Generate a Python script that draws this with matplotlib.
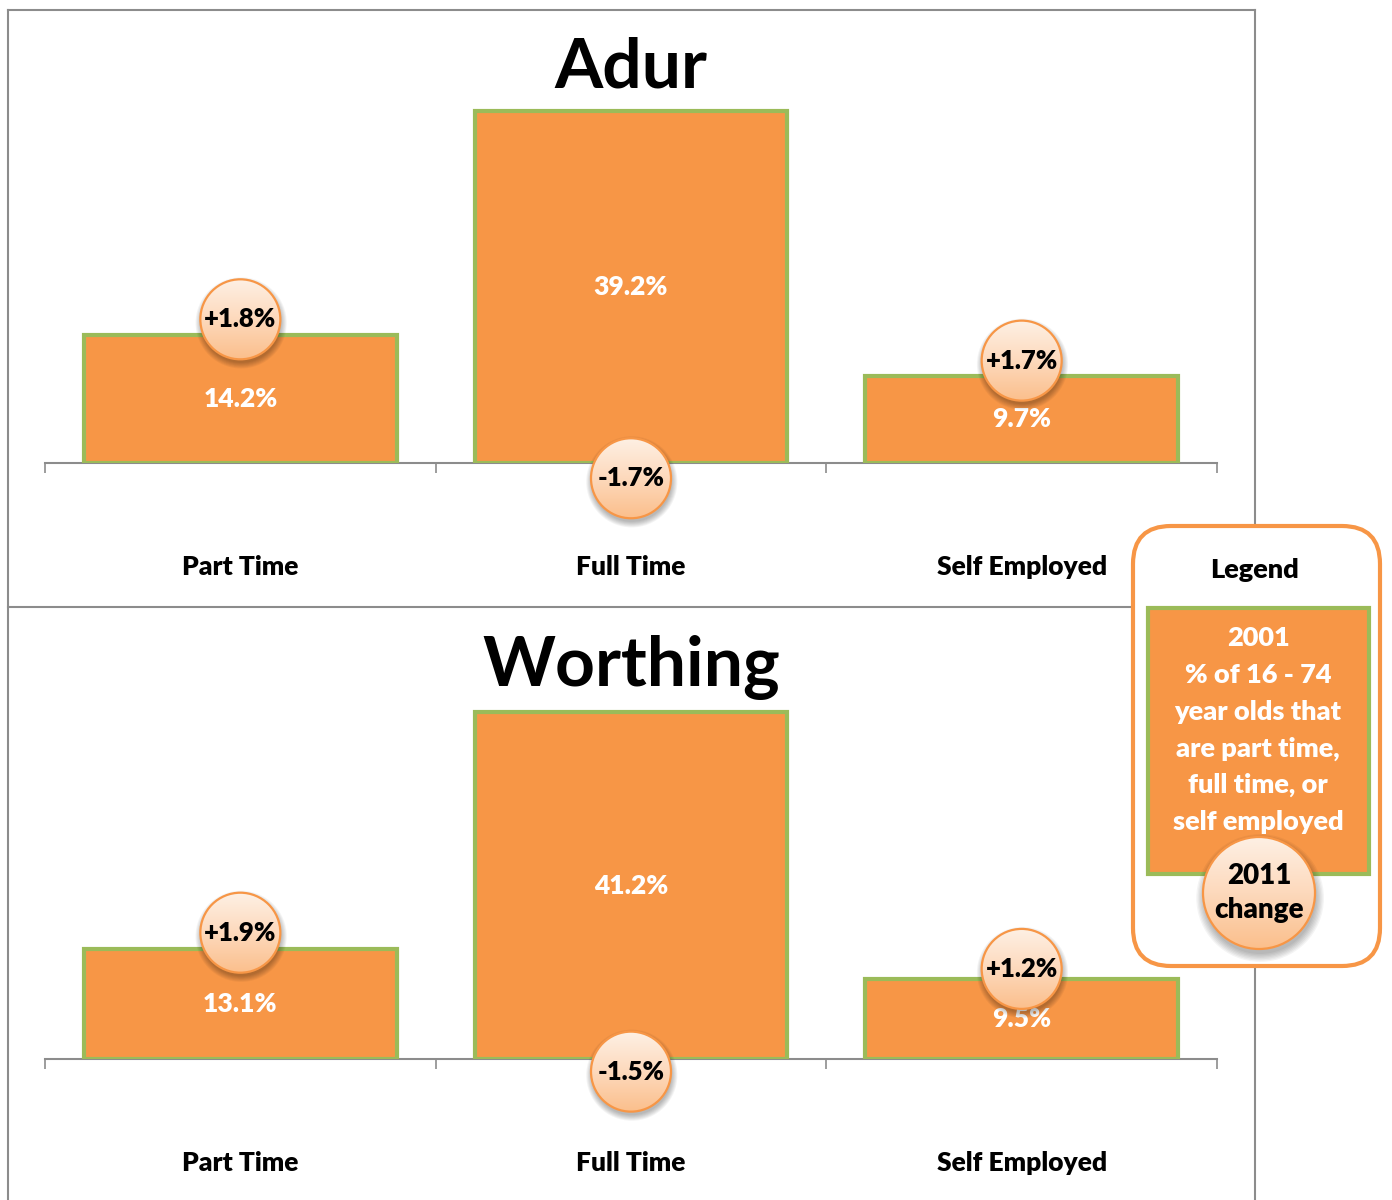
import numpy as np
import matplotlib
matplotlib.use("Agg")
import matplotlib.pyplot as plt
from matplotlib.patches import Circle, Rectangle, FancyBboxPatch
from matplotlib.colors import LinearSegmentedColormap

plt.rcParams['font.family'] = ['Lato', 'DejaVu Sans']
plt.rcParams['font.weight'] = 'heavy'
WEIGHT = 'heavy'

# 2001 share of 16-74 year olds, and the change to 2011 (percentage points)
categories = ['Part Time', 'Full Time', 'Self Employed']
districts = ['Adur', 'Worthing']
share_2001 = {
    'Adur': [14.2, 39.2, 9.7],
    'Worthing': [13.1, 41.2, 9.5],
}
change_2011 = {
    'Adur': [1.8, -1.7, 1.7],
    'Worthing': [1.9, -1.5, 1.2],
}

W, H = 1392, 1200
ORANGE = '#F79646'
GREEN = '#9BBB59'
GREY = '#8C8C8C'

fig = plt.figure(figsize=(W / 100, H / 100), dpi=100)
fig.patch.set_facecolor('white')

bubble_cmap = LinearSegmentedColormap.from_list('bub', ['#FBBF8C', '#FDD9BC', '#FEF0E4'])


def bubble(cx, cy, r, label, fs, spacing=1.15):
    """Peach circle with a soft shadow, centred on (cx, cy) pixels from top-left."""
    k = 1.35
    bax = fig.add_axes([(cx - k * r) / W, 1 - (cy + k * r) / H, 2 * k * r / W, 2 * k * r / H])
    bax.set_xlim(-k, k)
    bax.set_ylim(-k, k)
    bax.axis('off')
    bax.set_zorder(10)
    for s in np.linspace(1.0, 1.14, 7):
        bax.add_patch(Circle((0.02, -0.09), s, color='black', alpha=0.045, lw=0))
    grad = np.linspace(0, 1, 200).reshape(-1, 1)
    img = bax.imshow(grad, cmap=bubble_cmap, extent=(-1, 1, -1, 1), origin='lower',
                     aspect='auto', zorder=2)
    clip = Circle((0, 0), 1, transform=bax.transData)
    img.set_clip_path(clip)
    bax.add_patch(Circle((0, 0), 1, fill=False, edgecolor=ORANGE, lw=1.6, zorder=3))
    bax.text(0, 0, label, ha='center', va='center', fontsize=fs, fontweight=WEIGHT,
             color='black', zorder=4, linespacing=spacing)


# frame lines, titles and legend drawn in pixel space
frame = fig.add_axes([0, 0, 1, 1])
frame.set_xlim(0, W)
frame.set_ylim(H, 0)
frame.axis('off')
frame.set_zorder(5)
frame.plot([8, 8], [10, H], color=GREY, lw=1.5)
frame.plot([1255, 1255], [10, H], color=GREY, lw=1.5)
frame.plot([8, 1255], [10, 10], color=GREY, lw=1.5)
frame.plot([8, 1255], [607, 607], color=GREY, lw=1.5)

panels = {
    'Adur': dict(base=463, ppu=8.98, title_y=87),
    'Worthing': dict(base=1059, ppu=8.42, title_y=686),
}
ytop = 42
x = np.arange(len(categories))

axes = {}
for name in districts:
    p = panels[name]
    top_px = p['base'] - ytop * p['ppu']
    ax = fig.add_axes([45 / W, 1 - p['base'] / H, 1172 / W, (p['base'] - top_px) / H])
    ax.patch.set_visible(False)
    vals = share_2001[name]
    ax.bar(x, vals, width=0.8, color=ORANGE, edgecolor=GREEN, lw=3, zorder=3)
    for i, v in enumerate(vals):
        ax.text(i, v / 2, f'{v:.1f}%', ha='center', va='center', color='white',
                fontsize=19, fontweight=WEIGHT, zorder=4)
    ax.set_xlim(-0.5, len(categories) - 0.5)
    ax.set_ylim(0, ytop)
    for side in ('top', 'left', 'right'):
        ax.spines[side].set_visible(False)
    ax.spines['bottom'].set_color(GREY)
    ax.spines['bottom'].set_linewidth(1.5)
    ax.set_yticks([])
    ax.set_xticks(np.arange(len(categories) + 1) - 0.5)
    ax.set_xticklabels([])
    ax.tick_params(axis='x', which='major', length=7, width=1.2, color=GREY)
    ax.set_xticks(x, minor=True)
    ax.set_xticklabels(categories, minor=True, fontsize=19, fontweight=WEIGHT)
    ax.tick_params(axis='x', which='minor', length=0, pad=66)
    frame.text(631, p['title_y'], name, ha='center', va='baseline', fontsize=50,
               fontweight='bold', color='black')
    axes[name] = ax

# change bubbles: rises sit at the 2011 level, falls hang below the axis
for name in districts:
    ax = axes[name]
    for i, (v, c) in enumerate(zip(share_2001[name], change_2011[name])):
        yv = v + c if c > 0 else c
        px, py = ax.transData.transform((i, yv))
        bubble(px, H - py, 40, f'{c:+.1f}%', 18.5)

# legend
frame.add_patch(FancyBboxPatch((1133, 526), 247, 440,
                               boxstyle='round,pad=0,rounding_size=38',
                               facecolor='white', edgecolor=ORANGE, lw=3, zorder=3))
frame.text(1255, 570, 'Legend', ha='center', va='center', fontsize=19.5,
           fontweight=WEIGHT, color='black', zorder=4)
frame.add_patch(Rectangle((1148, 608), 221, 266, facecolor=ORANGE, edgecolor=GREEN,
                          lw=3, zorder=4))
legend_lines = ['2001', '% of 16 - 74', 'year olds that', 'are part time,',
                'full time, or', 'self employed']
for j, line in enumerate(legend_lines):
    frame.text(1258, 638 + j * 36.8, line, ha='center', va='center', fontsize=19.5,
               fontweight=WEIGHT, color='white', zorder=5)
bubble(1259, 893, 56, '2011\nchange', 20, spacing=1.35)

fig.savefig('out.png', dpi=100, facecolor='white')
